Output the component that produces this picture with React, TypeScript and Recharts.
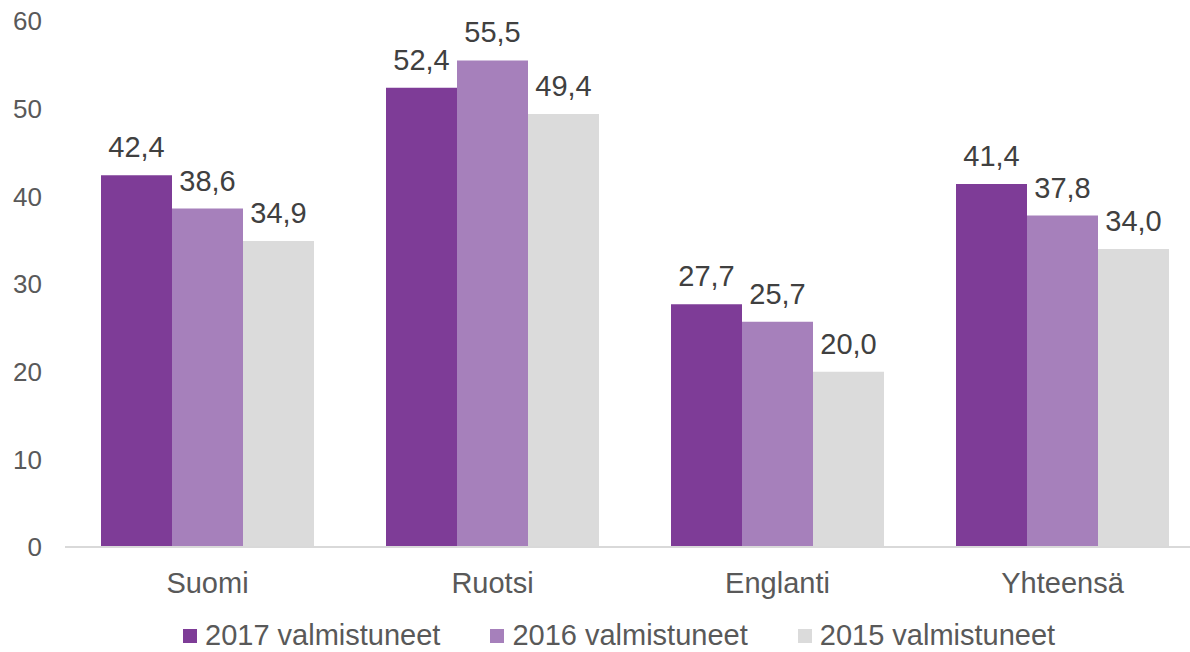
import React from "react";
import { BarChart, Bar, XAxis, YAxis, LabelList } from "recharts";

const categories = ["Suomi", "Ruotsi", "Englanti", "Yhteensä"];
const values2017 = [42.4, 52.4, 27.7, 41.4];
const values2016 = [38.6, 55.5, 25.7, 37.8];
const values2015 = [34.9, 49.4, 20.0, 34.0];
const yTicks = [0, 10, 20, 30, 40, 50, 60];

const SERIES = [
  { key: "y2017", name: "2017 valmistuneet", color: "#7E3C97" },
  { key: "y2016", name: "2016 valmistuneet", color: "#A680BB" },
  { key: "y2015", name: "2015 valmistuneet", color: "#DBDBDB" },
];

const data = categories.map((name, i) => ({
  name,
  y2017: values2017[i],
  y2016: values2016[i],
  y2015: values2015[i],
}));

const FONT = "'Liberation Sans', Arial, sans-serif";
const fmt = (v: any) => Number(v).toFixed(1).replace(".", ",");

export default function App() {
  return (
    <div
      style={{
        position: "absolute",
        left: 0,
        top: 0,
        width: 1190,
        height: 652,
        overflow: "hidden",
        background: "#fff",
        fontFamily: FONT,
      }}
    >
      <BarChart
        width={1230}
        height={652}
        data={data}
        margin={{ top: 21, right: 25, left: 0, bottom: 45 }}
        barCategoryGap={36}
        barGap={0}
      >
        <XAxis
          dataKey="name"
          height={60}
          tickLine={false}
          tickMargin={19}
          axisLine={{ stroke: "#D9D9D9", strokeWidth: 2 }}
          tick={{ fill: "#595959", fontSize: 29, fontFamily: FONT }}
        />
        <YAxis
          width={65}
          domain={[0, 60]}
          ticks={yTicks}
          axisLine={false}
          tickLine={false}
          tickMargin={17}
          tick={{ fill: "#595959", fontSize: 26, fontFamily: FONT }}
        />
        {SERIES.map((s) => (
          <Bar key={s.key} dataKey={s.key} name={s.name} fill={s.color} isAnimationActive={false}>
            <LabelList
              dataKey={s.key}
              position="top"
              offset={18}
              formatter={fmt}
              style={{ fill: "#404040", fontSize: 29, fontFamily: FONT }}
            />
          </Bar>
        ))}
      </BarChart>
      <div
        style={{
          position: "absolute",
          left: 183,
          top: 619,
          display: "flex",
          alignItems: "center",
          fontSize: 29,
          color: "#595959",
          whiteSpace: "nowrap",
        }}
      >
        {SERIES.map((s, i) => (
          <div key={s.key} style={{ display: "flex", alignItems: "center", marginLeft: i === 0 ? 0 : 50 }}>
            <span style={{ width: 14, height: 14, background: s.color, marginRight: 8, display: "inline-block" }} />
            <span>{s.name}</span>
          </div>
        ))}
      </div>
    </div>
  );
}
